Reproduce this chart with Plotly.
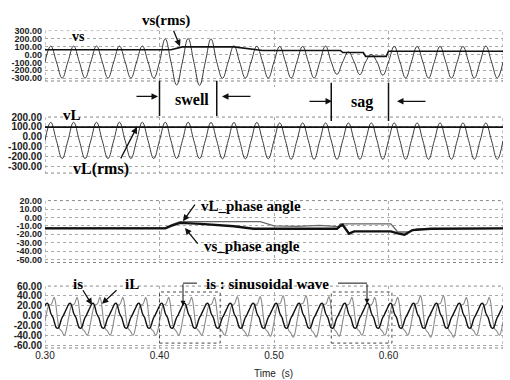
import numpy as np
import plotly.graph_objects as go
from plotly.subplots import make_subplots

# ---------------- data ----------------
T_START, T_END = 0.30, 0.70
X_TICKS = [0.30, 0.40, 0.50, 0.60, 0.70]

SWELL = (0.40, 0.45)
SAG = (0.55, 0.60)

# supply voltage vs : per-cycle positive / negative peaks (20 cycles of 50 Hz)
VS_MID = -95
VS_PEAKS = [105, 105, 105, 105, 105, 197, 200, 195, 108, 102,
            100, 100, 105, 30, 0, 100, 100, 100, 100, 105]
VS_TROUGHS = [-298, -298, -298, -298, -298, -385, -390, -300, -298, -298,
              -298, -298, -250, -255, -262, -298, -298, -298, -298, -298]
VS_RMS_T = [0.30, 0.410, 0.420, 0.465, 0.490, 0.558, 0.560, 0.578, 0.580, 0.598, 0.600, 0.70]
VS_RMS = [58, 58, 95, 95, 50, 50, 24, 24, -25, -25, 40, 40]

# load voltage vL
VL_MID = -40
VL_PEAKS = [147, 147, 147, 147, 147, 147, 147, 145, 145, 145,
            140, 140, 140, 140, 140, 140, 140, 140, 140, 140]
VL_TROUGHS = [-222, -222, -222, -222, -222, -222, -222, -225, -225, -225,
              -230, -230, -230, -230, -230, -230, -230, -230, -230, -230]
VL_RMS_T = [0.30, 0.70]
VL_RMS = [97, 97]

# phase angles (deg)
VS_PHASE_T = [0.30, 0.405, 0.410, 0.418, 0.436, 0.465, 0.482, 0.555, 0.558, 0.560,
              0.5655, 0.570, 0.602, 0.608, 0.614, 0.621, 0.637, 0.70]
VS_PHASE = [-13, -13, -10, -6.5, -7.6, -10.4, -13.5, -13.5, -10, -8.8,
            -19.3, -16.5, -16.5, -19, -20.5, -15, -13.5, -13]
VL_PHASE_T = [0.30, 0.405, 0.412, 0.418, 0.488, 0.500, 0.520, 0.540, 0.556, 0.558,
              0.602, 0.608, 0.617, 0.625, 0.70]
VL_PHASE = [-12.5, -12.5, -8, -4.9, -4.9, -10, -10.5, -9.5, -11, -7.6,
            -7.6, -17.3, -17.3, -13.5, -13]

# currents: one cycle sampled every 1 ms, plus per-cycle scale
IS_CYCLE = [20, 24, 25, 22, 14, 5, 0, -4, -12, -20,
            -25, -26, -24, -18, -10, -4, 0, 5, 10, 15]
IL_CYCLE = [-12, 0, 12, 20, 22, 22, 25, 32, 37, 30,
            12, -8, -22, -28, -30, -33, -38, -40, -35, -25]
IS_SCALE = [1.0] * 20
IL_SCALE = [1.0, 1.0, 1.0, 1.0, 1.0, 1.0, 1.0, 1.0, 1.05, 1.05,
            1.1, 1.1, 1.05, 1.0, 1.0, 1.0, 1.1, 1.1, 1.0, 1.0]

P1_TICKS = [300, 200, 100, 0, -100, -200, -300]
P2_TICKS = [200, 100, 0, -100, -200, -300]
P3_TICKS = [20, 10, 0, -10, -20, -30, -40, -50]
P4_TICKS = [60, 40, 20, 0, -20, -40, -60]


def quarter_wave(peaks, troughs, mid):
    """Samples at each quarter period: mid, +peak, mid, -peak ..."""
    vals = []
    for p, q in zip(peaks, troughs):
        vals += [mid, p, mid, q]
    vals.append(mid)
    t = np.linspace(T_START, T_END, len(vals))
    return t, vals


def tiled(cycle, scale):
    vals = []
    for s in scale:
        vals += [v * s for v in cycle]
    vals.append(cycle[0] * scale[-1])
    t = np.linspace(T_START, T_END, len(vals))
    return t, vals


# ---------------- figure ----------------
W, H = 510, 380
ML, MR, MT, MB = 45, 7, 0, 32
PW, PH = W - ML - MR, H - MT - MB

fig = make_subplots(rows=4, cols=1, shared_xaxes=True)

WAVE = dict(color="#3a3a3a", width=1, shape="spline", smoothing=1.2)
t, v = quarter_wave(VS_PEAKS, VS_TROUGHS, VS_MID)
fig.add_trace(go.Scatter(x=t, y=v, mode="lines", line=WAVE, name="vs"), row=1, col=1)
fig.add_trace(go.Scatter(x=VS_RMS_T, y=VS_RMS, mode="lines",
                         line=dict(color="#111", width=1.6), name="vs(rms)"), row=1, col=1)

t, v = quarter_wave(VL_PEAKS, VL_TROUGHS, VL_MID)
fig.add_trace(go.Scatter(x=t, y=v, mode="lines", line=WAVE, name="vL"), row=2, col=1)
fig.add_trace(go.Scatter(x=VL_RMS_T, y=VL_RMS, mode="lines",
                         line=dict(color="#111", width=1.6), name="vL(rms)"), row=2, col=1)

fig.add_trace(go.Scatter(x=VL_PHASE_T, y=VL_PHASE, mode="lines",
                         line=dict(color="#666", width=1.3), name="vL_phase"), row=3, col=1)
fig.add_trace(go.Scatter(x=VS_PHASE_T, y=VS_PHASE, mode="lines",
                         line=dict(color="#111", width=2.4), name="vs_phase"), row=3, col=1)

t, v = tiled(IL_CYCLE, IL_SCALE)
fig.add_trace(go.Scatter(x=t, y=v, mode="lines",
                         line=dict(color="#8a8a8a", width=1.1, shape="spline"), name="iL"),
              row=4, col=1)
t, v = tiled(IS_CYCLE, IS_SCALE)
fig.add_trace(go.Scatter(x=t, y=v, mode="lines",
                         line=dict(color="#111", width=1.4, shape="spline"), name="is"),
              row=4, col=1)


def fy(ypx):
    return (H - MB - ypx) / PH


def fx(xpx):
    return (xpx - ML) / PW


GRID = dict(showgrid=True, gridcolor="#aaa", griddash="dot", gridwidth=1,
            zeroline=False, showline=False, ticks="")

# (ticks, range, pixel rows bottom/top, tick font size)
panels = [
    (P1_TICKS, [-405, 300], (82, 25), 9),
    (P2_TICKS, [-370, 200], (170, 113), 10),
    (P3_TICKS, [-53.5, 20], (261, 198), 9),
    (P4_TICKS, [-66, 60], (348, 285), 10),
]
for i, (ticks, rng, (ybot, ytop), fs) in enumerate(panels, start=1):
    fig.update_yaxes(row=i, col=1, range=rng, tickvals=ticks,
                     ticktext=[f"{v:.2f}" for v in ticks],
                     tickfont=dict(family="Liberation Sans", size=fs, color="#222", weight="bold"),
                     domain=[fy(ybot), fy(ytop)], ticklabelstandoff=2, **GRID)
    fig.update_xaxes(row=i, col=1, range=[T_START, T_END], tickvals=X_TICKS,
                     ticktext=[f"{v:.2f}" for v in X_TICKS],
                     showticklabels=(i == 4),
                     tickfont=dict(family="Liberation Sans", size=10, color="#222"),
                     **GRID)

# dotted panel frames
frame = dict(type="rect", line=dict(color="#888", width=1, dash="dot"), layer="below")
fig.add_shape(x0=T_START, x1=T_END, xref="x", y0=-335, y1=300, yref="y", **frame)
for ax in ("y2", "y3", "y4"):
    fig.add_shape(x0=T_START, x1=T_END, xref="x", y0=0, y1=1, yref=f"{ax} domain", **frame)

# event markers (swell / sag)
black = dict(color="#111", width=1.5)
for tt in SWELL:
    fig.add_shape(type="line", xref="x", yref="paper", x0=tt, x1=tt,
                  y0=fy(112), y1=fy(76), line=black)
for tt in SAG:
    fig.add_shape(type="line", xref="x", yref="paper", x0=tt, x1=tt,
                  y0=fy(117), y1=fy(78), line=black)

# "is : sinusoidal wave" boxes
box = dict(type="rect", xref="x4", yref="y4", y0=-56, y1=48,
           line=dict(color="#444", width=1, dash="dot"))
fig.add_shape(x0=SWELL[0], x1=SWELL[1] + 0.003, **box)
fig.add_shape(x0=SAG[0], x1=SAG[1] + 0.003, **box)
fig.add_shape(type="line", xref="paper", yref="paper", x0=fx(183), x1=fx(197),
              y0=fy(282), y1=fy(282), line=dict(color="#111", width=1))
fig.add_shape(type="line", xref="paper", yref="paper", x0=fx(338), x1=fx(367),
              y0=fy(282), y1=fy(282), line=dict(color="#111", width=1))

LBL = dict(family="Liberation Serif", size=15, color="#000", weight="bold")


def label(text, x, y, size=15):
    fig.add_annotation(text=text, x=fx(x), y=fy(y), xref="paper", yref="paper",
                       showarrow=False, xanchor="center", yanchor="middle",
                       font=dict(LBL, size=size))


def arrow(tail, head, width=1.3):
    fig.add_annotation(text="", x=fx(head[0]), y=fy(head[1]), xref="paper", yref="paper",
                       ax=tail[0] - head[0], ay=tail[1] - head[1],
                       showarrow=True, arrowhead=2, arrowsize=1, arrowwidth=width,
                       arrowcolor="#111")


label("vs(rms)", 166, 15, 15)
label("vs", 78, 31, 14)
label("swell", 192, 95, 16)
label("sag", 362, 98, 16)
label("vL", 72, 111, 15)
label("vL(rms)", 101, 166, 16)
label("vL_phase angle", 251, 204, 15)
label("vs_phase angle", 252, 244, 15)
label("is", 78, 283, 15)
label("iL", 132, 283, 15)
label("is : sinusoidal wave", 267, 283, 15)

arrow((173, 24), (180, 41))
arrow((120, 156), (137, 123))
arrow((196, 201), (183, 219))
arrow((199, 243), (185, 226))
arrow((82, 288), (92, 304))
arrow((118, 288), (102, 303))
arrow((135, 92), (158, 92))
arrow((252, 92), (222, 92))
arrow((308, 97), (332, 97))
arrow((427, 97), (397, 97))
arrow((183, 282), (183, 305), 1)
arrow((367, 282), (367, 303), 1)

fig.add_annotation(text="Time  (s)", x=fx(273), y=fy(374), xref="paper", yref="paper",
                   showarrow=False, xanchor="center", yanchor="middle",
                   font=dict(family="Liberation Sans", size=10, color="#222"))

fig.update_layout(width=W, height=H, margin=dict(l=ML, r=MR, t=MT, b=MB),
                  paper_bgcolor="white", plot_bgcolor="white", showlegend=False)

fig.write_html("out.html")
